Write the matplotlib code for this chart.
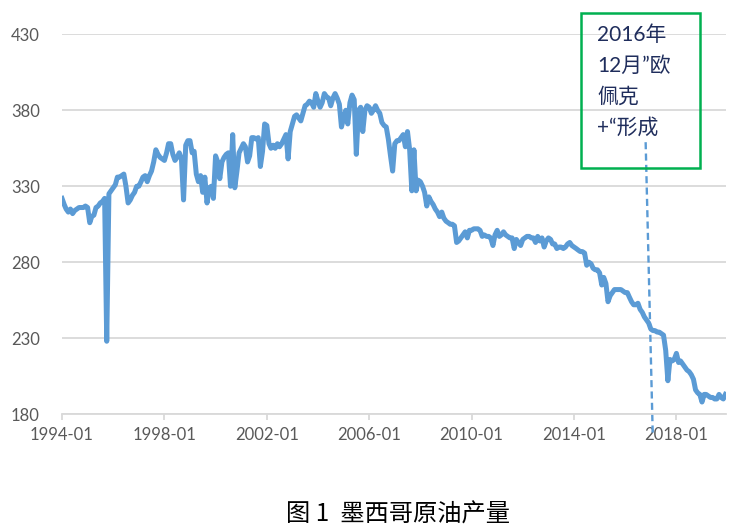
import pandas as pd
import matplotlib
matplotlib.use('Agg')
import matplotlib.pyplot as plt
import matplotlib.dates as mdates
from matplotlib.patches import Rectangle

# Monthly crude production, 1994-01 .. 2019-12
start_month = '1994-01'
production = [
    322, 318, 315, 313, 315, 312, 314, 315, 316, 316, 316, 317,  # 1994
    316, 306, 310, 311, 316, 317, 319, 320, 322, 228, 325, 327,  # 1995
    329, 331, 336, 336, 337, 338, 330, 319, 321, 324, 326, 330,  # 1996
    330, 333, 336, 337, 333, 337, 340, 346, 354, 351, 349, 348,  # 1997
    347, 352, 358, 358, 351, 347, 349, 352, 348, 321, 357, 360,  # 1998
    360, 352, 353, 338, 333, 337, 326, 336, 319, 329, 330, 322,  # 1999
    350, 346, 335, 346, 349, 351, 352, 330, 364, 329, 340, 352,  # 2000
    355, 358, 356, 346, 350, 362, 362, 361, 362, 343, 353, 371,  # 2001
    370, 358, 355, 357, 355, 358, 356, 358, 361, 364, 348, 366,  # 2002
    371, 376, 377, 375, 373, 378, 383, 384, 386, 385, 382, 391,  # 2003
    386, 382, 385, 391, 389, 388, 383, 388, 391, 388, 384, 369,  # 2004
    375, 380, 371, 385, 390, 387, 351, 380, 382, 366, 380, 383,  # 2005
    382, 378, 380, 383, 380, 378, 372, 370, 369, 361, 350, 340,  # 2006
    358, 360, 360, 362, 364, 356, 366, 354, 327, 354, 327, 334,  # 2007
    333, 330, 326, 317, 323, 320, 318, 315, 313, 310, 313, 309,  # 2008
    307, 306, 305, 305, 304, 293, 294, 296, 298, 300, 296, 301,  # 2009
    301, 302, 302, 302, 301, 297, 298, 297, 297, 296, 291, 298,  # 2010
    301, 297, 298, 300, 298, 297, 296, 296, 289, 295, 293, 291,  # 2011
    295, 296, 297, 297, 296, 296, 293, 297, 294, 296, 290, 294,  # 2012
    296, 295, 292, 292, 289, 290, 290, 289, 290, 292, 293, 291,  # 2013
    290, 289, 288, 287, 287, 286, 278, 280, 279, 276, 275, 275,  # 2014
    273, 265, 270, 266, 254, 258, 260, 262, 262, 262, 262, 261,  # 2015
    260, 260, 257, 254, 252, 252, 253, 249, 247, 244, 242, 240,  # 2016
    236, 235, 235, 234, 234, 233, 232, 222, 202, 216, 215, 216,  # 2017
    220, 214, 215, 213, 211, 209, 208, 206, 203, 196, 194, 193,  # 2018
    188, 193, 193, 192, 191, 191, 190, 190, 193, 191, 190, 193,  # 2019
]
months = pd.date_range(start_month, periods=len(production), freq='MS')

y_ticks = [180, 230, 280, 330, 380, 430]
x_ticks = pd.date_range('1994-01', '2018-01', freq='48MS')

note_lines = ['2016年', '12月”欧', '佩克', '+“形成']
caption = '图 1  墨西哥原油产量'

fig = plt.figure(figsize=(7.33, 5.32), dpi=100)
ax = fig.add_axes([0.0846, 0.2215, 0.906, 0.714])

ax.plot(months, production, color='#5B9BD5', linewidth=3.6, solid_joinstyle='round')

ax.set_ylim(180, 430)
ax.set_yticks(y_ticks)
ax.set_xlim(months[0], months[-1] + pd.Timedelta(days=10))
ax.set_xticks(x_ticks)
ax.xaxis.set_major_formatter(mdates.DateFormatter('%Y-%m'))

ax.grid(axis='y', color='#d9d9d9', linewidth=1.3)
ax.set_axisbelow(True)
for s in ['top', 'right', 'left']:
    ax.spines[s].set_visible(False)
ax.spines['bottom'].set_color('#d9d9d9')
ax.spines['bottom'].set_linewidth(1.3)
ax.tick_params(axis='y', length=0, pad=16, labelsize=12, labelcolor='#595959')
ax.tick_params(axis='x', length=4, width=1.3, color='#d9d9d9', pad=5,
               labelsize=12, labelcolor='#595959')
for lab in ax.get_xticklabels() + ax.get_yticklabels():
    lab.set_fontfamily('Lato')

# dashed marker line for the OPEC+ note
ax.plot([pd.Timestamp('2016-10-19'), pd.Timestamp('2017-01-28')], [359, 167],
        color='#5B9BD5', linewidth=1.7, linestyle=(0, (3, 1.8)), clip_on=False)

# green note box
fig.patches.append(Rectangle((581 / 733, 1 - 168 / 532), 119 / 733, 155 / 532,
                             transform=fig.transFigure, fill=False,
                             edgecolor='#00B050', linewidth=1.8))
for i, line in enumerate(note_lines):
    fig.text(597 / 733, 1 - (35 + 31 * i) / 532, line, fontsize=15, color='#1F2D5C',
             va='center', ha='left', family=['Lato', 'Noto Sans CJK SC'])

fig.text(398 / 733, 1 - 515 / 532, caption, fontsize=17.5, color='black',
         ha='center', va='center', family=['Noto Sans CJK SC', 'DejaVu Sans'])

fig.savefig('out.png', dpi=100)
